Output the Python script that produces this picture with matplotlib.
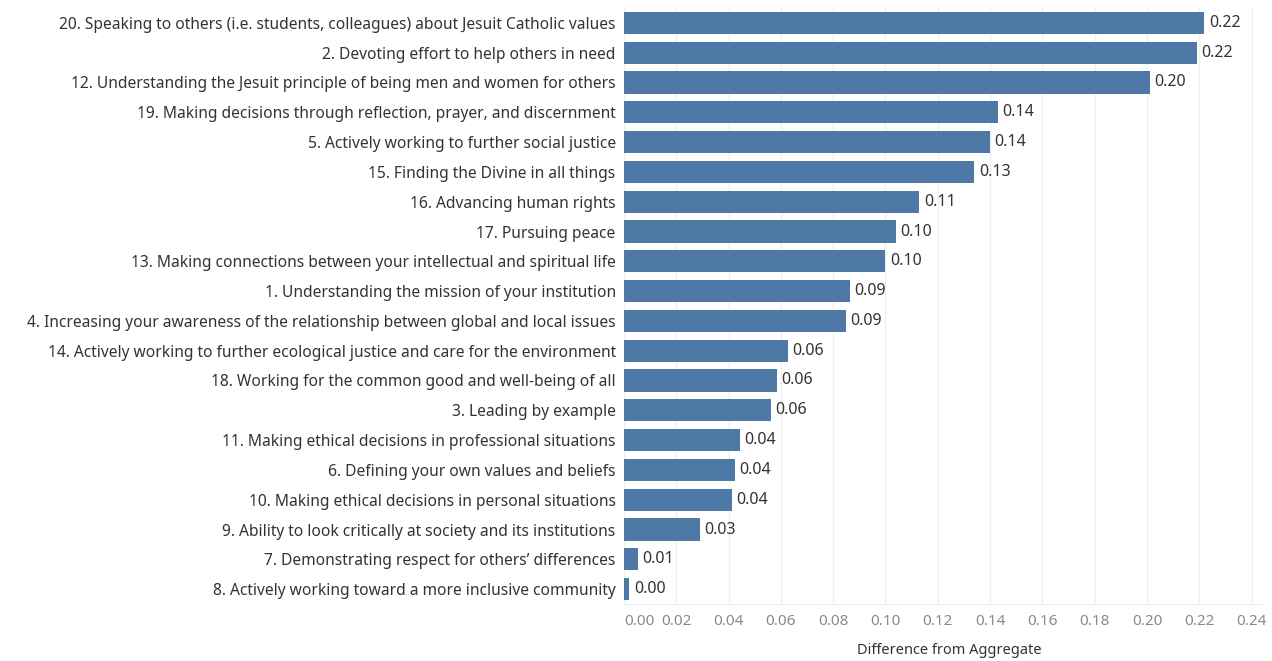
import matplotlib
matplotlib.use("Agg")
import matplotlib.pyplot as plt

labels = [
    "20. Speaking to others (i.e. students, colleagues) about Jesuit Catholic values",
    "2. Devoting effort to help others in need",
    "12. Understanding the Jesuit principle of being men and women for others",
    "19. Making decisions through reflection, prayer, and discernment",
    "5. Actively working to further social justice",
    "15. Finding the Divine in all things",
    "16. Advancing human rights",
    "17. Pursuing peace",
    "13. Making connections between your intellectual and spiritual life",
    "1. Understanding the mission of your institution",
    "4. Increasing your awareness of the relationship between global and local issues",
    "14. Actively working to further ecological justice and care for the environment",
    "18. Working for the common good and well-being of all",
    "3. Leading by example",
    "11. Making ethical decisions in professional situations",
    "6. Defining your own values and beliefs",
    "10. Making ethical decisions in personal situations",
    "9. Ability to look critically at society and its institutions",
    "7. Demonstrating respect for others\u2019 differences",
    "8. Actively working toward a more inclusive community",
]
values = [0.222, 0.219, 0.201, 0.143, 0.140, 0.134, 0.113, 0.104, 0.100, 0.0864,
          0.085, 0.0627, 0.0585, 0.0562, 0.0444, 0.0424, 0.0413, 0.029, 0.0054, 0.0021]
xticks = [0.00, 0.02, 0.04, 0.06, 0.08, 0.10, 0.12, 0.14, 0.16, 0.18, 0.20, 0.22, 0.24]
xlabel = "Difference from Aggregate"

plt.rcParams['font.family'] = ['Noto Sans', 'DejaVu Sans']

fig = plt.figure(figsize=(12.72, 6.61), dpi=100)
ax = fig.add_axes([624/1272, 1-604/661, (1262-624)/1272, (604-8)/661])

n = len(labels)
ypos = list(range(n))
ax.barh(ypos, values, height=0.74, color="#4e79a7", zorder=3)
ax.set_ylim(n - 0.5, -0.5)
ax.set_xlim(0, 0.244)
ax.set_yticks(ypos)
ax.set_yticklabels(labels, fontsize=11.2, color="#333333")
ax.tick_params(axis='y', length=0, pad=6)

ax.set_xticks(xticks)
ax.set_xticklabels([f"{t:.2f}" for t in xticks], fontsize=11, color="#8a8a8a")
ax.tick_params(axis='x', length=0, pad=7)
tl = ax.get_xticklabels()
tl[0].set_ha('left')

for v, y in zip(values, ypos):
    ax.text(v + 0.0017, y, f"{v:.2f}", va='center', ha='left', fontsize=11.5, color="#333333")

ax.grid(axis='x', color="#efefef", linewidth=1, zorder=0)
for s in ['top', 'right', 'left']:
    ax.spines[s].set_visible(False)
ax.spines['bottom'].set_color("#efefef")

ax.set_xlabel(xlabel, fontsize=10.5, fontweight='bold', color="#333333")
ax.xaxis.set_label_coords(0.51, -0.066)

fig.savefig("out.png", dpi=100)
